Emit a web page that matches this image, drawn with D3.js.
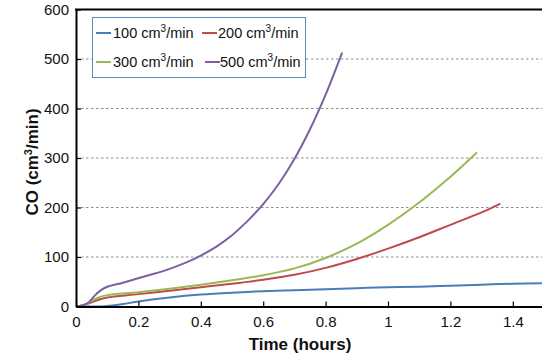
<!DOCTYPE html>
<html>
<head>
<meta charset="utf-8">
<script src="https://cdn.jsdelivr.net/npm/d3@7"></script>
<style>
  html, body { margin: 0; padding: 0; background: #fff; }
  svg { display: block; font-family: "Liberation Sans", Arial, Helvetica, sans-serif; }
</style>
</head>
<body>
<svg id="chart" width="542" height="360"></svg>
<script>
// ---- data ----
const seriesNames = ["100", "200", "300", "500"];
const xTicks = [0, 0.2, 0.4, 0.6, 0.8, 1, 1.2, 1.4];
const yTicks = [0, 100, 200, 300, 400, 500, 600];

const time100 = [0, 0.05, 0.1, 0.15, 0.2, 0.3, 0.4, 0.5, 0.6, 0.7, 0.8, 0.9, 1.0, 1.1, 1.2, 1.3, 1.4, 1.5];
const co100   = [0, 0, 1, 5, 10, 18, 24, 28, 31, 33, 35, 37, 39, 40, 42, 44, 46, 47];

const time200 = [0, 0.02, 0.04, 0.06, 0.08, 0.1, 0.2, 0.3, 0.4, 0.5, 0.6, 0.7, 0.8, 0.9, 1.0, 1.1, 1.2, 1.3, 1.36];
const co200   = [0, 2, 6, 11, 15, 18, 25, 32, 39, 46, 54, 64, 78, 96, 117, 140, 165, 190, 208];

const time300 = [0, 0.02, 0.04, 0.06, 0.08, 0.1, 0.2, 0.3, 0.4, 0.5, 0.6, 0.7, 0.8, 0.9, 1.0, 1.1, 1.2, 1.285];
const co300   = [0, 2, 7, 15, 20, 23, 29, 36, 44, 53, 63, 77, 98, 127, 165, 210, 262, 311];

const time500 = [0, 0.02, 0.04, 0.06, 0.08, 0.1, 0.15, 0.2, 0.25, 0.3, 0.35, 0.4, 0.45, 0.5, 0.55, 0.6, 0.65, 0.7, 0.75, 0.8, 0.853];
const co500   = [0, 2, 8, 22, 33, 40, 48, 57, 66, 76, 88, 103, 121, 144, 173, 207, 248, 298, 358, 428, 513];

const colors = ["#4a7ebb", "#be4b48", "#98b954", "#7d60a0"];

const series = [
  { name: seriesNames[0], t: time100, v: co100, color: colors[0] },
  { name: seriesNames[1], t: time200, v: co200, color: colors[1] },
  { name: seriesNames[2], t: time300, v: co300, color: colors[2] },
  { name: seriesNames[3], t: time500, v: co500, color: colors[3] }
];

// ---- layout ----
const svg = d3.select("#chart");
const mLeft = 76, mRight = 544, mTop = 9.5, mBottom = 306.5;
const x = d3.scaleLinear().domain([0, 1.5]).range([mLeft, mRight]);
const y = d3.scaleLinear().domain([0, 600]).range([mBottom, mTop]);

// gridlines
svg.append("g").selectAll("line")
  .data(yTicks.filter(d => d > 0 && d < 600))
  .join("line")
  .attr("x1", mLeft).attr("x2", mRight)
  .attr("y1", d => y(d)).attr("y2", d => y(d))
  .attr("stroke", "#8c8c8c").attr("stroke-width", 1)
  .attr("stroke-dasharray", "2.5,2.5");

// series lines
const line = d3.line().x(d => x(d[0])).y(d => y(d[1])).curve(d3.curveCatmullRom.alpha(0.5));
svg.append("g").selectAll("path")
  .data(series)
  .join("path")
  .attr("d", s => line(s.t.map((t, i) => [t, s.v[i]])))
  .attr("fill", "none")
  .attr("stroke", s => s.color)
  .attr("stroke-width", 2)
  .attr("stroke-linejoin", "round");

// axes
const xAxis = d3.axisBottom(x).tickValues(xTicks).tickSizeInner(-5).tickSizeOuter(0)
  .tickFormat(d3.format("~g")).tickPadding(10);
const gx = svg.append("g").attr("transform", `translate(0,${mBottom})`).call(xAxis);
gx.select(".domain").attr("stroke", "#000").attr("stroke-width", 2);
gx.selectAll(".tick line").attr("stroke", "#000").attr("stroke-width", 1.2);
gx.selectAll(".tick text").attr("font-size", 15).attr("fill", "#111")
  .attr("font-family", "Liberation Sans, Arial, sans-serif");

const yAxis = d3.axisLeft(y).tickValues(yTicks).tickSizeInner(-5).tickSizeOuter(0).tickPadding(7);
const gy = svg.append("g").attr("transform", `translate(${mLeft},0)`).call(yAxis);
gy.select(".domain").attr("stroke", "#000").attr("stroke-width", 2);
gy.selectAll(".tick line").attr("stroke", "#000").attr("stroke-width", 1.2);
gy.selectAll(".tick text").attr("font-size", 15).attr("fill", "#111")
  .attr("font-family", "Liberation Sans, Arial, sans-serif");

// top frame
svg.append("line").attr("x1", mLeft - 1).attr("x2", mRight).attr("y1", mTop).attr("y2", mTop)
  .attr("stroke", "#000").attr("stroke-width", 2);

// axis titles
svg.append("text").attr("x", 300).attr("y", 350).attr("text-anchor", "middle")
  .attr("font-size", 17).attr("font-weight", "bold").attr("fill", "#111")
  .text("Time (hours)");

const yt = svg.append("text").attr("transform", "translate(38,162) rotate(-90)")
  .attr("text-anchor", "middle").attr("font-size", 17).attr("font-weight", "bold").attr("fill", "#111");
yt.append("tspan").text("CO (cm");
yt.append("tspan").attr("font-size", 11).attr("dy", -6).text("3");
yt.append("tspan").attr("dy", 6).text("/min)");

// legend
const lg = svg.append("g");
lg.append("rect").attr("x", 92.5).attr("y", 17.5).attr("width", 213).attr("height", 60)
  .attr("fill", "#fff").attr("stroke", "#5a8ac6").attr("stroke-width", 1);
const legendPos = [
  { lx: 96, tx: 113, ly: 33 },
  { lx: 202, tx: 218, ly: 33 },
  { lx: 96, tx: 113, ly: 62 },
  { lx: 205, tx: 220, ly: 62 }
];
series.forEach((s, i) => {
  const p = legendPos[i];
  lg.append("line").attr("x1", p.lx).attr("x2", p.lx + 15).attr("y1", p.ly).attr("y2", p.ly)
    .attr("stroke", s.color).attr("stroke-width", 2);
  const t = lg.append("text").attr("x", p.tx).attr("y", p.ly + 5).attr("font-size", 14.5).attr("fill", "#111");
  t.append("tspan").text(s.name + " cm");
  t.append("tspan").attr("font-size", 10).attr("dy", -6).text("3");
  t.append("tspan").attr("dy", 6).text("/min");
});
</script>
</body>
</html>
